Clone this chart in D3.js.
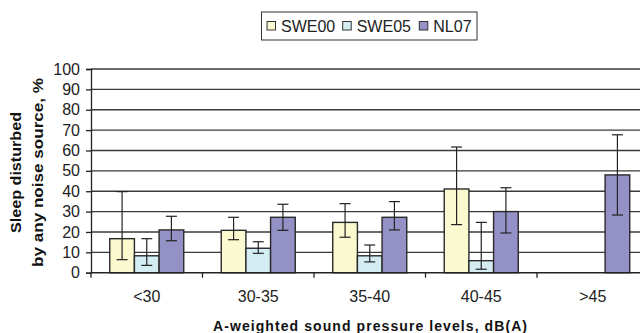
<!DOCTYPE html>
<html>
<head>
<meta charset="utf-8">
<script src="https://cdn.jsdelivr.net/npm/d3@7"></script>
<style>
  body { margin: 0; background: #fff; }
  svg { display: block; font-family: "Liberation Sans", Arial, sans-serif; }
</style>
</head>
<body>
<div id="chart"></div>
<script>
// categories and series
var categories = ["<30", "30-35", "35-40", "40-45", ">45"];
var seriesNames = ["SWE00", "SWE05", "NL07"];
var seriesColors = ["#FAF9CF", "#D4EDF3", "#9491C6"];
var yTicks = [0, 10, 20, 30, 40, 50, 60, 70, 80, 90, 100];

// values, % (null = no data)
var swe00 = [16.7, 20.8, 24.7, 41.1, null];
var swe00Lo = [6.4, 16.2, 17.4, 23.6, null];
var swe00Hi = [39.8, 27.2, 33.9, 61.7, null];

var swe05 = [8.3, 12.0, 8.3, 5.9, null];
var swe05Lo = [3.6, 9.5, 5.3, 1.7, null];
var swe05Hi = [16.7, 15.2, 13.6, 24.7, null];

var nl07 = [21.0, 27.2, 27.2, 30.0, 48.0];
var nl07Lo = [15.7, 20.8, 21.0, 19.5, 28.3];
var nl07Hi = [27.7, 33.6, 34.9, 41.7, 67.7];

var values = [swe00, swe05, nl07],
    lows = [swe00Lo, swe05Lo, nl07Lo],
    highs = [swe00Hi, swe05Hi, nl07Hi];

var width = 640, height = 333;
var plotLeft = 91, plotRight = 648.5, plotTop = 69, plotBottom = 272.7;

var svg = d3.select("#chart").append("svg")
    .attr("width", width)
    .attr("height", height);

var x = d3.scaleBand().domain(categories).range([plotLeft, plotRight]).padding(0);
var xs = d3.scaleBand().domain(seriesNames).range([0, x.bandwidth()])
    .paddingInner(0).paddingOuter(0.76);
var y = d3.scaleLinear().domain([0, 100]).range([plotBottom, plotTop]);

// gridlines
svg.append("g").selectAll("line")
    .data(yTicks.slice(1))
    .join("line")
    .attr("x1", plotLeft).attr("x2", width)
    .attr("y1", d => y(d)).attr("y2", d => y(d))
    .attr("stroke", "#3a3a3a")
    .attr("stroke-width", 1.4);

// y axis
var yAxis = svg.append("g")
    .attr("transform", "translate(" + plotLeft + ",0)")
    .call(d3.axisLeft(y).tickValues(yTicks).tickSize(5).tickPadding(6));
yAxis.select(".domain").attr("stroke", "#222").attr("stroke-width", 1.3);
yAxis.selectAll(".tick line").attr("stroke", "#222").attr("stroke-width", 1.3);
yAxis.selectAll(".tick text")
    .attr("font-size", 16)
    .attr("fill", "#222")
    .attr("font-family", "Liberation Sans, Arial, sans-serif");

// bars
var bars = [];
values.forEach(function(vals, s) {
    vals.forEach(function(v, c) {
        if (v !== null) bars.push({cat: categories[c], s: s, v: v, lo: lows[s][c], hi: highs[s][c]});
    });
});

svg.append("g").selectAll("rect")
    .data(bars)
    .join("rect")
    .attr("x", d => x(d.cat) + xs(seriesNames[d.s]))
    .attr("y", d => y(d.v))
    .attr("width", xs.bandwidth())
    .attr("height", d => y(0) - y(d.v))
    .attr("fill", d => seriesColors[d.s])
    .attr("stroke", "#2a2a2a")
    .attr("stroke-width", 1.4);

// error bars
var err = svg.append("g").attr("stroke", "#222").attr("stroke-width", 1.2);
bars.forEach(function(d) {
    var cx = x(d.cat) + xs(seriesNames[d.s]) + xs.bandwidth() / 2;
    err.append("line").attr("x1", cx).attr("x2", cx).attr("y1", y(d.lo)).attr("y2", y(d.hi));
    err.append("line").attr("x1", cx - 5.5).attr("x2", cx + 5.5).attr("y1", y(d.lo)).attr("y2", y(d.lo));
    err.append("line").attr("x1", cx - 5.5).attr("x2", cx + 5.5).attr("y1", y(d.hi)).attr("y2", y(d.hi));
});

// x axis (ticks between categories)
var xAxisG = svg.append("g").attr("transform", "translate(0," + plotBottom + ")");
xAxisG.append("line").attr("x1", plotLeft).attr("x2", width).attr("y1", 0).attr("y2", 0)
    .attr("stroke", "#222").attr("stroke-width", 1.4);
xAxisG.selectAll(".xt")
    .data(categories)
    .join("line")
    .attr("class", "xt")
    .attr("x1", d => x(d)).attr("x2", d => x(d))
    .attr("y1", 0).attr("y2", 5)
    .attr("stroke", "#222").attr("stroke-width", 1.3);
xAxisG.selectAll("text")
    .data(categories)
    .join("text")
    .attr("x", d => x(d) + x.bandwidth() / 2)
    .attr("y", 29.5)
    .attr("text-anchor", "middle")
    .attr("font-size", 16)
    .attr("fill", "#222")
    .text(d => d);

// axis titles
svg.append("text")
    .attr("x", 370).attr("y", 331)
    .attr("text-anchor", "middle")
    .attr("font-size", 14)
    .attr("font-weight", "bold")
    .attr("fill", "#111")
    .attr("textLength", 314)
    .attr("lengthAdjust", "spacing")
    .text("A-weighted sound pressure levels, dB(A)");

svg.append("text")
    .attr("transform", "translate(21,172.5) rotate(-90)")
    .attr("text-anchor", "middle")
    .attr("font-size", 15)
    .attr("font-weight", "bold")
    .attr("fill", "#111")
    .attr("textLength", 121)
    .attr("lengthAdjust", "spacingAndGlyphs")
    .text("Sleep disturbed");

svg.append("text")
    .attr("transform", "translate(43,172.5) rotate(-90)")
    .attr("text-anchor", "middle")
    .attr("font-size", 15)
    .attr("font-weight", "bold")
    .attr("fill", "#111")
    .attr("textLength", 189)
    .attr("lengthAdjust", "spacingAndGlyphs")
    .text("by any noise source, %");

// legend
var legend = svg.append("g");
legend.append("rect")
    .attr("x", 261.5).attr("y", 12)
    .attr("width", 215.5).attr("height", 28)
    .attr("fill", "#fff")
    .attr("stroke", "#333")
    .attr("stroke-width", 1);
var legendX = [267, 342.7, 419.3];
var item = legend.selectAll(".item")
    .data(seriesNames)
    .join("g")
    .attr("class", "item")
    .attr("transform", (d, i) => "translate(" + legendX[i] + ",0)");
item.append("rect")
    .attr("x", 0).attr("y", 21.5)
    .attr("width", 8.5).attr("height", 8.5)
    .attr("fill", (d, i) => seriesColors[i])
    .attr("stroke", "#333")
    .attr("stroke-width", 1);
item.append("text")
    .attr("x", 14).attr("y", 31.5)
    .attr("font-size", 16)
    .attr("fill", "#222")
    .text(d => d);
</script>
</body>
</html>
